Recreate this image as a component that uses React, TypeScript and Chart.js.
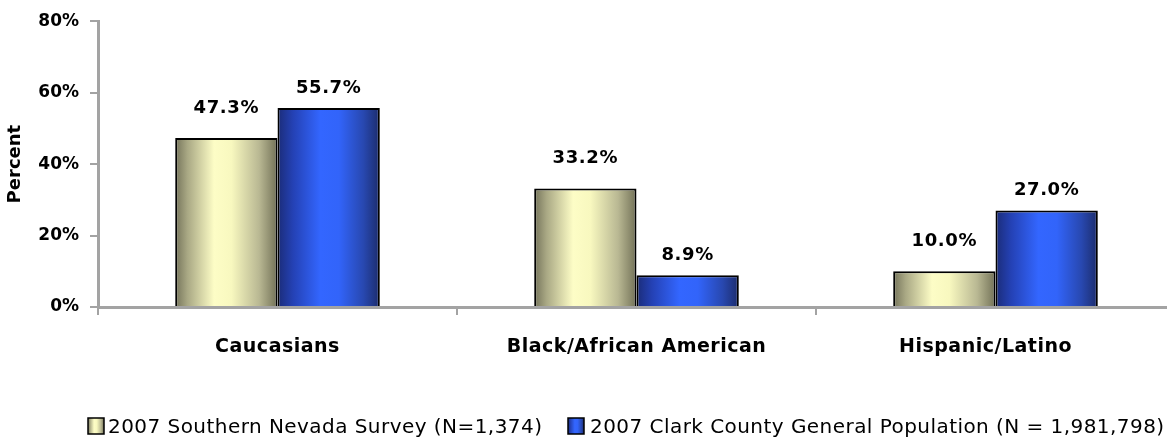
import React, { useEffect, useRef } from "react";
import { Chart, registerables } from "chart.js";

Chart.register(...registerables);

const categories = ["Caucasians", "Black/African American", "Hispanic/Latino"];
const surveyValues = [47.3, 33.2, 10.0];
const populationValues = [55.7, 8.9, 27.0];
const seriesNames = [
  "2007 Southern Nevada Survey (N=1,374)",
  "2007 Clark County General Population (N = 1,981,798)",
];
const yTicks = [0, 20, 40, 60, 80];

const CAT_PCT = 0.57;
const AXIS_GRAY = "#a3a3a3";

const yellowStops: [number, string][] = [
  [0, "#74735a"],
  [0.12, "#a9a884"],
  [0.38, "#fdfdc6"],
  [0.55, "#f8f8bf"],
  [0.82, "#b9b893"],
  [1, "#727157"],
];
const blueStops: [number, string][] = [
  [0, "#1b2c78"],
  [0.15, "#2441b4"],
  [0.42, "#3366ff"],
  [0.6, "#3264fa"],
  [0.84, "#2848b0"],
  [1, "#1c2c6c"],
];

function grad(ctx: CanvasRenderingContext2D, x0: number, x1: number, stops: [number, string][]) {
  const g = ctx.createLinearGradient(x0, 0, x1, 0);
  stops.forEach(([o, c]) => g.addColorStop(o, c));
  return g;
}

function barFill(stops: [number, string][]) {
  return (c: any) => {
    const chart = c.chart;
    const xs = chart.scales && chart.scales.x;
    if (!xs || c.dataIndex === undefined || !xs.width) return stops[2][1];
    const catW = xs.width / categories.length;
    const groupW = catW * CAT_PCT;
    const barW = groupW / 2;
    const center = xs.getPixelForValue(c.dataIndex);
    const left = center - groupW / 2 + c.datasetIndex * barW;
    return grad(chart.ctx, left, left + barW, stops);
  };
}

const overlayPlugin = {
  id: "overlay",
  afterDatasetsDraw(chart: any) {
    const ctx: CanvasRenderingContext2D = chart.ctx;
    ctx.save();
    // value labels
    ctx.fillStyle = "#000";
    ctx.textAlign = "center";
    ctx.textBaseline = "middle";
    ctx.font = "bold 18px 'DejaVu Sans'";
    (ctx as any).letterSpacing = "0.6px";
    chart.data.datasets.forEach((ds: any, di: number) => {
      const meta = chart.getDatasetMeta(di);
      meta.data.forEach((el: any, i: number) => {
        const off = di === 0 ? 30 : 20;
        ctx.fillText(ds.data[i].toFixed(1) + "%", el.x, el.y - off);
      });
    });
    // category labels
    const xs = chart.scales.x;
    ctx.font = "bold 19px 'DejaVu Sans'";
    (ctx as any).letterSpacing = "0.5px";
    ctx.textBaseline = "alphabetic";
    categories.forEach((cat, i) => {
      let cx = xs.getPixelForValue(i);
      const w = ctx.measureText(cat).width;
      if (cx + w / 2 > 1072) cx = 1072 - w / 2;
      ctx.fillText(cat, cx, 352);
    });
    // legend
    ctx.textAlign = "left";
    ctx.font = "20px 'DejaVu Sans'";
    (ctx as any).letterSpacing = "0.45px";
    const boxes = [
      { x: 88, tx: 108, stops: yellowStops },
      { x: 568, tx: 590, stops: blueStops },
    ];
    boxes.forEach((b, i) => {
      ctx.fillStyle = grad(ctx, b.x, b.x + 16, b.stops);
      ctx.fillRect(b.x, 418, 16, 16);
      ctx.strokeStyle = "#000";
      ctx.lineWidth = 1.5;
      ctx.strokeRect(b.x, 418, 16, 16);
      ctx.fillStyle = "#000";
      ctx.fillText(seriesNames[i], b.tx, 433);
    });
    ctx.restore();
  },
};

export default function App() {
  const ref = useRef<HTMLCanvasElement | null>(null);
  useEffect(() => {
    if (!ref.current) return;
    const chart = new Chart(ref.current, {
      type: "bar",
      data: {
        labels: categories,
        datasets: [
          {
            label: seriesNames[0],
            data: surveyValues,
            backgroundColor: barFill(yellowStops),
            borderColor: "#000",
            borderWidth: 2,
          },
          {
            label: seriesNames[1],
            data: populationValues,
            backgroundColor: barFill(blueStops),
            borderColor: "#000",
            borderWidth: 2,
          },
        ],
      },
      options: {
        responsive: false,
        animation: false,
        devicePixelRatio: 1,
        layout: { padding: { top: 21, right: 15, bottom: 0, left: 0 } },
        datasets: { bar: { categoryPercentage: CAT_PCT, barPercentage: 1 } },
        plugins: { legend: { display: false }, tooltip: { enabled: false } },
        scales: {
          x: {
            grid: {
              display: true,
              drawOnChartArea: false,
              drawTicks: true,
              tickLength: 8,
              offset: true,
              color: AXIS_GRAY,
              lineWidth: 2,
            },
            border: { display: true, color: AXIS_GRAY, width: 3 },
            ticks: { display: false },
            afterFit: (s: any) => {
              s.height = 132;
            },
          },
          y: {
            min: 0,
            max: 80,
            afterBuildTicks: (s: any) => {
              s.ticks = yTicks.map((v) => ({ value: v }));
            },
            grid: {
              display: true,
              drawOnChartArea: false,
              drawTicks: true,
              tickLength: 8,
              color: AXIS_GRAY,
              lineWidth: 2,
            },
            border: { display: true, color: AXIS_GRAY, width: 3 },
            ticks: {
              color: "#000",
              padding: 11,
              font: { family: "'DejaVu Sans'", size: 17, weight: "bold" },
              callback: (v: any) => v + "%",
            },
            title: {
              display: true,
              text: "Percent",
              color: "#000",
              font: { family: "'DejaVu Sans'", size: 18, weight: "bold" },
              padding: { top: 5, bottom: 0 },
            },
            afterFit: (s: any) => {
              s.width = 98;
            },
          },
        },
      },
      plugins: [overlayPlugin],
    });
    return () => chart.destroy();
  }, []);
  return (
    <div
      style={{
        position: "fixed",
        left: 0,
        top: 0,
        width: 1167,
        height: 439,
        overflow: "hidden",
        background: "#fff",
      }}
    >
      <canvas ref={ref} width={1190} height={439} style={{ display: "block", width: 1190, height: 439 }} />
    </div>
  );
}
